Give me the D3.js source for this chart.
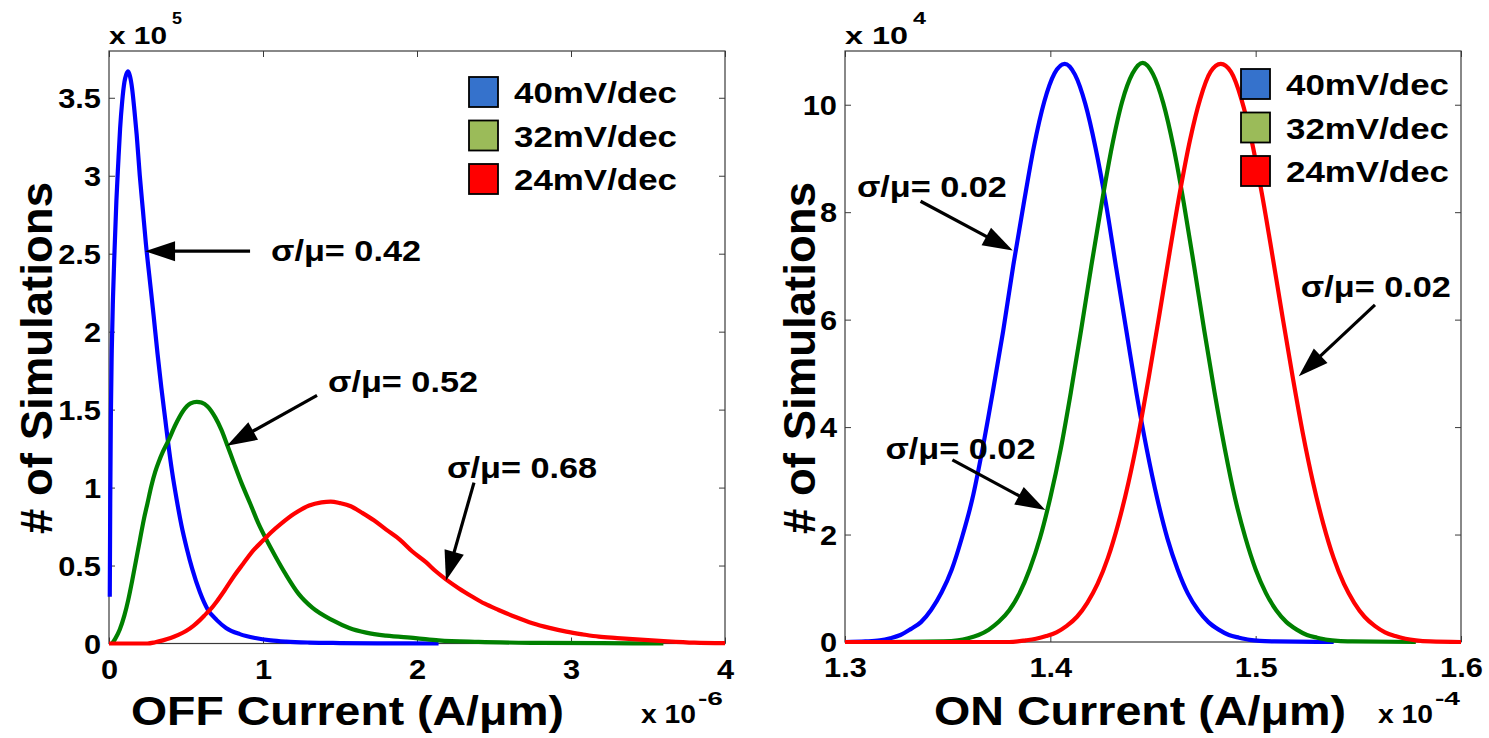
<!DOCTYPE html>
<html>
<head>
<meta charset="utf-8">
<script src="https://cdn.jsdelivr.net/npm/d3@7"></script>
<style>
  body { margin: 0; background: #fff; }
  text { font-family: "Liberation Sans", Arial, Helvetica, sans-serif; font-weight: bold; fill: #000; }
</style>
</head>
<body>
<svg id="fig" width="1489" height="738"></svg>
<script>
// ---------- data ----------
const seriesNames = ["40mV/dec", "32mV/dec", "24mV/dec"];

// OFF current distribution: x in units of 1e-6 A/um, counts in units of 1e5
const offTicksX = [0, 1, 2, 3, 4];
const offTicksY = [0, 0.5, 1, 1.5, 2, 2.5, 3, 3.5];
const offTickLabelsX = ["0", "1", "2", "3", "4"];
const offTickLabelsY = ["0", "0.5", "1", "1.5", "2", "2.5", "3", "3.5"];

const offBlue = [
  [0.005, 0.30], [0.008, 0.90], [0.012, 1.45], [0.018, 1.88], [0.026, 2.22], [0.036, 2.52],
  [0.048, 2.84], [0.060, 3.08], [0.072, 3.30], [0.086, 3.48], [0.100, 3.60], [0.112, 3.65],
  [0.124, 3.67], [0.136, 3.64], [0.150, 3.56], [0.165, 3.42], [0.180, 3.26], [0.200, 3.00],
  [0.220, 2.78], [0.240, 2.56], [0.265, 2.33], [0.290, 2.10], [0.315, 1.86], [0.340, 1.64],
  [0.365, 1.44], [0.385, 1.28], [0.410, 1.10], [0.440, 0.92], [0.470, 0.76], [0.505, 0.61],
  [0.540, 0.48], [0.590, 0.33], [0.640, 0.22], [0.700, 0.15], [0.760, 0.10], [0.850, 0.06],
  [0.950, 0.035], [1.050, 0.02], [1.150, 0.012], [1.300, 0.006], [1.500, 0.003], [1.800, 0.001],
  [2.140, 0.0]
];
const offGreen = [
  [0.020, 0.0], [0.040, 0.03], [0.070, 0.09], [0.100, 0.18], [0.125, 0.28], [0.150, 0.40],
  [0.175, 0.53], [0.200, 0.66], [0.225, 0.79], [0.250, 0.90], [0.275, 1.01], [0.300, 1.10],
  [0.325, 1.17], [0.350, 1.23], [0.385, 1.30], [0.430, 1.40], [0.480, 1.49], [0.530, 1.54],
  [0.570, 1.55], [0.600, 1.545], [0.640, 1.52], [0.690, 1.45], [0.730, 1.37], [0.765, 1.28],
  [0.810, 1.16], [0.860, 1.03], [0.920, 0.89], [0.970, 0.77], [1.020, 0.67], [1.080, 0.56],
  [1.150, 0.44], [1.230, 0.32], [1.320, 0.23], [1.450, 0.15], [1.560, 0.10], [1.670, 0.07],
  [1.800, 0.05], [1.990, 0.035], [2.140, 0.02], [2.400, 0.01], [2.800, 0.004], [3.200, 0.002],
  [3.600, 0.0]
];
const offRed = [
  [0.000, 0.0], [0.250, 0.0], [0.300, 0.008], [0.350, 0.02], [0.400, 0.035], [0.450, 0.055],
  [0.500, 0.08], [0.550, 0.115], [0.590, 0.15], [0.630, 0.19], [0.660, 0.22], [0.700, 0.27],
  [0.750, 0.34], [0.810, 0.43], [0.870, 0.51], [0.940, 0.60], [1.000, 0.66], [1.050, 0.71],
  [1.120, 0.77], [1.200, 0.83], [1.300, 0.885], [1.380, 0.905], [1.440, 0.91], [1.500, 0.90],
  [1.570, 0.88], [1.640, 0.84], [1.720, 0.79], [1.800, 0.73], [1.890, 0.665], [1.970, 0.59],
  [2.060, 0.52], [2.120, 0.465], [2.190, 0.41], [2.270, 0.355], [2.360, 0.30], [2.440, 0.255],
  [2.530, 0.215], [2.640, 0.17], [2.750, 0.13], [2.860, 0.10], [2.970, 0.076], [3.080, 0.058],
  [3.180, 0.044], [3.300, 0.035], [3.400, 0.028], [3.600, 0.015], [3.800, 0.005], [4.000, 0.002]
];

// ON current distribution: x in units of 1e-4 A/um, counts in units of 1e4
const onTicksX = [1.3, 1.4, 1.5, 1.6];
const onTicksY = [0, 2, 4, 6, 8, 10];
const onTickLabelsX = ["1.3", "1.4", "1.5", "1.6"];
const onTickLabelsY = ["0", "2", "4", "6", "8", "10"];

const onBlue = [
  [1.300, 0.0], [1.310, 0.01], [1.317, 0.03], [1.322, 0.07], [1.327, 0.13], [1.332, 0.24],
  [1.337, 0.37], [1.342, 0.60], [1.347, 0.92], [1.352, 1.35], [1.357, 1.95], [1.362, 2.66],
  [1.367, 3.60], [1.372, 4.66], [1.377, 5.78], [1.382, 7.02], [1.387, 8.15], [1.392, 9.22],
  [1.397, 10.05], [1.402, 10.58], [1.407, 10.76], [1.412, 10.56], [1.417, 10.02], [1.422, 9.20],
  [1.427, 8.18], [1.432, 6.98], [1.437, 5.80], [1.442, 4.62], [1.447, 3.58], [1.452, 2.68],
  [1.457, 1.93], [1.462, 1.35], [1.467, 0.90], [1.472, 0.59], [1.477, 0.37], [1.482, 0.23],
  [1.487, 0.13], [1.492, 0.08], [1.497, 0.04], [1.502, 0.02], [1.509, 0.01], [1.538, 0.0]
];
const onGreen = [
  [1.320, 0.0], [1.348, 0.01], [1.355, 0.03], [1.360, 0.07], [1.365, 0.13], [1.370, 0.23],
  [1.375, 0.38], [1.380, 0.59], [1.385, 0.91], [1.390, 1.36], [1.395, 1.94], [1.400, 2.69],
  [1.405, 3.58], [1.410, 4.65], [1.415, 5.81], [1.420, 7.01], [1.425, 8.16], [1.430, 9.22],
  [1.435, 10.06], [1.440, 10.58], [1.445, 10.78], [1.450, 10.57], [1.455, 10.03], [1.460, 9.21],
  [1.465, 8.17], [1.470, 7.00], [1.475, 5.79], [1.480, 4.64], [1.485, 3.59], [1.490, 2.67],
  [1.495, 1.94], [1.500, 1.35], [1.505, 0.91], [1.510, 0.59], [1.515, 0.37], [1.520, 0.23],
  [1.525, 0.13], [1.530, 0.08], [1.535, 0.04], [1.540, 0.02], [1.547, 0.01], [1.578, 0.0]
];
const onRed = [
  [1.300, 0.0], [1.380, 0.0], [1.388, 0.03], [1.393, 0.06], [1.398, 0.11], [1.403, 0.18],
  [1.408, 0.30], [1.413, 0.47], [1.418, 0.73], [1.423, 1.08], [1.428, 1.56], [1.433, 2.19],
  [1.438, 2.96], [1.443, 3.88], [1.448, 4.94], [1.453, 6.07], [1.458, 7.23], [1.463, 8.35],
  [1.468, 9.34], [1.473, 10.11], [1.478, 10.61], [1.483, 10.76], [1.488, 10.61], [1.493, 10.11],
  [1.498, 9.34], [1.503, 8.35], [1.508, 7.23], [1.513, 6.07], [1.518, 4.94], [1.523, 3.88],
  [1.528, 2.96], [1.533, 2.19], [1.538, 1.56], [1.543, 1.08], [1.548, 0.73], [1.553, 0.47],
  [1.558, 0.30], [1.563, 0.18], [1.568, 0.11], [1.573, 0.06], [1.578, 0.03], [1.585, 0.01],
  [1.600, 0.0]
];

// ---------- styling ----------
const lineColors = ["#0000ff", "#008000", "#ff0000"];
const swatchColors = ["#3572cc", "#9bbb59", "#ff0000"];
const axisColor = "#3a3a3a";

const svg = d3.select("#fig");

// widen glyphs of a text selection by factor k
function stretch(sel, k) {
  sel.each(function () {
    const L = this.getComputedTextLength();
    this.setAttribute("textLength", (L * k).toFixed(1));
    this.setAttribute("lengthAdjust", "spacingAndGlyphs");
  });
}
function fit(sel, w) {
  sel.attr("textLength", w).attr("lengthAdjust", "spacingAndGlyphs");
}

function arrow(g, x0, y0, x1, y1) {
  const dx = x1 - x0, dy = y1 - y0, len = Math.hypot(dx, dy);
  const ux = dx / len, uy = dy / len;
  const headL = 30, headW = 10;
  const bx = x1 - ux * headL, by = y1 - uy * headL;
  g.append("line")
    .attr("x1", x0).attr("y1", y0).attr("x2", bx + ux * 2).attr("y2", by + uy * 2)
    .attr("stroke", "#000").attr("stroke-width", 3.2);
  g.append("path")
    .attr("d", `M${x1},${y1}L${bx - uy * headW},${by + ux * headW}L${bx + uy * headW},${by - ux * headW}Z`)
    .attr("fill", "#000");
}

function drawPanel(p) {
  const x = d3.scaleLinear().domain(p.xDomain).range([p.left, p.right]);
  const y = d3.scaleLinear().domain(p.yDomain).range([p.bottom, p.top]);
  const g = svg.append("g");

  // ticks on all four sides, pointing inward
  const ax = (axis, tx, ty) => {
    const a = g.append("g").attr("transform", `translate(${tx},${ty})`).call(axis);
    a.select(".domain").remove();
    a.selectAll(".tick line").attr("stroke", axisColor).attr("stroke-width", 1);
    a.attr("font-family", null).attr("font-size", null);
    return a;
  };
  const bottom = ax(d3.axisBottom(x).tickValues(p.xTicks).tickSize(-6)
      .tickFormat((d, i) => p.xLabels[i]), 0, p.bottom);
  bottom.selectAll("text").attr("y", 35).attr("dy", null)
    .style("font-size", "28px").attr("fill", "#000");
  const left = ax(d3.axisLeft(y).tickValues(p.yTicks).tickSize(-6)
      .tickFormat((d, i) => p.yLabels[i]), p.left, 0);
  left.selectAll("text").attr("x", -8).attr("dy", "0.34em")
    .style("font-size", "28px").attr("fill", "#000");
  ax(d3.axisTop(x).tickValues(p.xTicks).tickSize(-6).tickFormat(""), 0, p.top);
  ax(d3.axisRight(y).tickValues(p.yTicks).tickSize(-6).tickFormat(""), p.right, 0);
  stretch(bottom.selectAll("text"), 1.1);
  stretch(left.selectAll("text"), 1.1);

  // frame
  g.append("rect")
    .attr("x", p.left).attr("y", p.top)
    .attr("width", p.right - p.left).attr("height", p.bottom - p.top)
    .attr("fill", "none").attr("stroke", axisColor).attr("stroke-width", 1.2);

  // distribution curves
  const line = d3.line().x(d => x(d[0])).y(d => y(d[1])).curve(d3.curveMonotoneX);
  p.series.forEach((s, i) => {
    g.append("path").datum(s)
      .attr("d", line)
      .attr("fill", "none")
      .attr("stroke", lineColors[i])
      .attr("stroke-width", 4.2)
      .attr("stroke-linejoin", "round");
  });

  // legend
  const lg = g.append("g");
  seriesNames.forEach((name, i) => {
    const ry = p.legendY + i * 43.5;
    lg.append("rect")
      .attr("x", p.legendX).attr("y", ry)
      .attr("width", 29).attr("height", 30)
      .attr("fill", swatchColors[i]).attr("stroke", "#000").attr("stroke-width", 1.8);
    lg.append("text")
      .attr("x", p.legendX + 45).attr("y", ry + 26)
      .style("font-size", "30px")
      .text(name)
      .call(fit, 163);
  });

  // annotations (given in data coordinates)
  p.notes.forEach(n => {
    arrow(g, x(n.from[0]), y(n.from[1]), x(n.to[0]), y(n.to[1]));
    g.append("text")
      .attr("x", x(n.at[0])).attr("y", y(n.at[1]))
      .style("font-size", "29px")
      .text(n.label)
      .call(fit, 150);
  });

  // axis titles
  g.append("text")
    .attr("x", p.xTitleX).attr("y", 725)
    .style("font-size", "40px")
    .text(p.xTitle)
    .call(fit, p.xTitleW);
  g.append("text")
    .attr("transform", `translate(${p.yTitleX},358) rotate(-90)`)
    .attr("text-anchor", "middle")
    .style("font-size", "44px")
    .text("# of Simulations")
    .call(fit, 352);

  // exponent multipliers
  const mult = (tx, ty, w, fs, exp, ex, ey, ew, efs) => {
    g.append("text").attr("x", tx).attr("y", ty).style("font-size", fs + "px")
      .text("x 10").call(fit, w);
    g.append("text").attr("x", ex).attr("y", ey).style("font-size", efs + "px")
      .text(exp).call(fit, ew);
  };
  mult(p.left, 44, p.yMult.w, 24, p.yMult.exp, p.left + p.yMult.w + 5, 24, p.yMult.ew, 17);
  mult(p.xMult.x, 723, 55, 26, p.xMult.exp, p.xMult.x + 57, 705, 25, 18);
}

drawPanel({
  left: 109, right: 725, top: 51, bottom: 643.5,
  xDomain: [0, 4], yDomain: [0, 3.8],
  xTicks: offTicksX, yTicks: offTicksY,
  xLabels: offTickLabelsX, yLabels: offTickLabelsY,
  series: [offBlue, offGreen, offRed],
  legendX: 469, legendY: 77,
  notes: [
    { label: "σ/μ= 0.42", at: [1.052, 2.452], from: [0.916, 2.516], to: [0.234, 2.516] },
    { label: "σ/μ= 0.52", at: [1.422, 1.616], from: [1.351, 1.591], to: [0.766, 1.269] },
    { label: "σ/μ= 0.68", at: [2.195, 1.064], from: [2.370, 1.032], to: [2.188, 0.402] }
  ],
  xTitle: "OFF Current (A/μm)", xTitleX: 131, xTitleW: 433,
  yTitleX: 52,
  yMult: { exp: "5", w: 58, ew: 10 },
  xMult: { x: 641, exp: "-6" }
});

drawPanel({
  left: 845, right: 1461, top: 51, bottom: 642,
  xDomain: [1.3, 1.6], yDomain: [0, 11],
  xTicks: onTicksX, yTicks: onTicksY,
  xLabels: onTickLabelsX, yLabels: onTickLabelsY,
  series: [onBlue, onGreen, onRed],
  legendX: 1241, legendY: 69,
  notes: [
    { label: "σ/μ= 0.02", at: [1.3058, 8.287], from: [1.3368, 8.203], to: [1.3817, 7.285] },
    { label: "σ/μ= 0.02", at: [1.3197, 3.408], from: [1.3523, 3.389], to: [1.3976, 2.458] },
    { label: "σ/μ= 0.02", at: [1.5220, 6.425], from: [1.5581, 6.276], to: [1.5210, 4.944] }
  ],
  xTitle: "ON Current (A/μm)", xTitleX: 934, xTitleW: 412,
  yTitleX: 815,
  yMult: { exp: "4", w: 63, ew: 13 },
  xMult: { x: 1378, exp: "-4" }
});
</script>
</body>
</html>
